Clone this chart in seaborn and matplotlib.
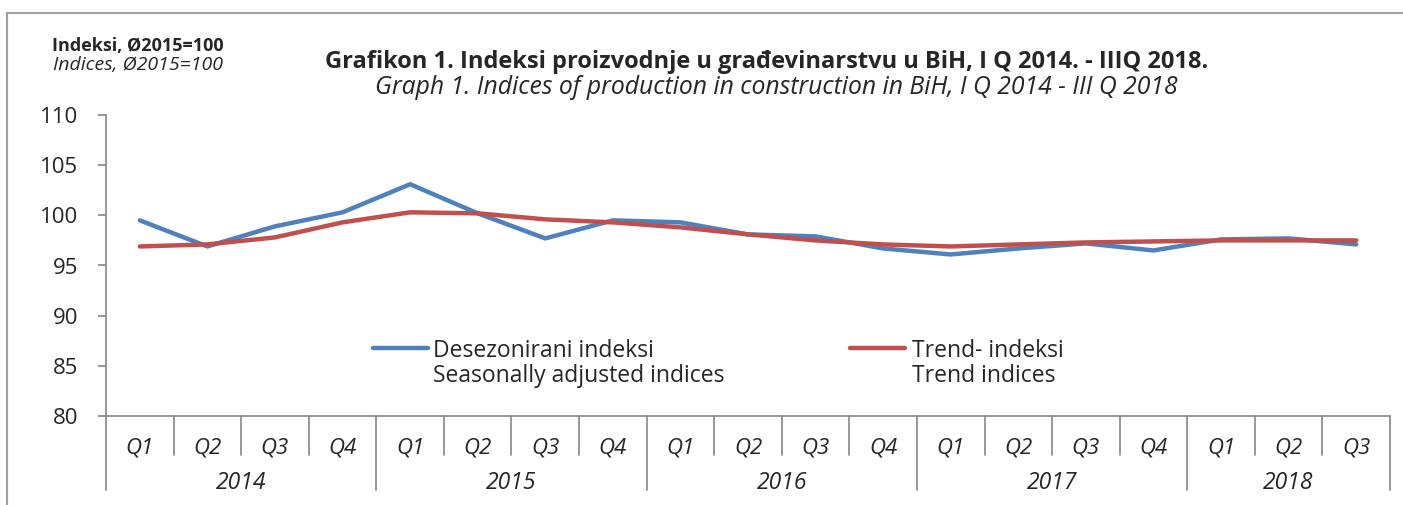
import matplotlib
matplotlib.use("Agg")
import matplotlib.pyplot as plt
import seaborn as sns
import pandas as pd
import numpy as np
from matplotlib.patches import Rectangle

sns.set_style("white")
plt.rcParams['font.family'] = ['Open Sans', 'DejaVu Sans']

years = ["2014", "2015", "2016", "2017", "2018"]
quarters = ["Q1", "Q2", "Q3", "Q4",
            "Q1", "Q2", "Q3", "Q4",
            "Q1", "Q2", "Q3", "Q4",
            "Q1", "Q2", "Q3", "Q4",
            "Q1", "Q2", "Q3"]
quarter_years = ["2014"] * 4 + ["2015"] * 4 + ["2016"] * 4 + ["2017"] * 4 + ["2018"] * 3
seasonally_adjusted = [99.5, 96.9, 98.9, 100.3, 103.1, 100.2, 97.7, 99.5, 99.3, 98.1,
                       97.9, 96.7, 96.1, 96.7, 97.2, 96.5, 97.6, 97.7, 97.1]
trend = [96.9, 97.1, 97.8, 99.3, 100.3, 100.2, 99.6, 99.3, 98.8, 98.1,
         97.5, 97.1, 96.9, 97.1, 97.3, 97.4, 97.5, 97.5, 97.5]
series_names = ["Desezonirani indeksi", "Trend- indeksi"]
series_names_en = ["Seasonally adjusted indices", "Trend indices"]
colors = ["#4F81BD", "#C0504D"]

n = len(quarters)
df = pd.DataFrame({
    "idx": list(range(n)) * 2,
    "value": seasonally_adjusted + trend,
    "series": [series_names[0]] * n + [series_names[1]] * n,
})

fig = plt.figure(figsize=(14.03, 5.05), dpi=100)
W, H = 1403, 505
ax = fig.add_axes([106 / W, 1 - 416 / H, (1390 - 106) / W, (416 - 115) / H])

sns.lineplot(data=df, x="idx", y="value", hue="series", palette=colors,
             linewidth=3.2, ax=ax, legend=False, sort=False)

ax.set_xlim(-0.5, n - 0.5)
ax.set_ylim(80, 110)
ax.set_yticks([80, 85, 90, 95, 100, 105, 110])
ax.set_yticklabels(["80", "85", "90", "95", "100", "105", "110"], fontsize=16)
ax.set_xticks([])
ax.set_xlabel("")
ax.set_ylabel("")
for s in ["top", "right"]:
    ax.spines[s].set_visible(False)
grey = "#868686"
ax.spines["left"].set_color(grey)
ax.spines["bottom"].set_color(grey)
ax.spines["left"].set_linewidth(1.2)
ax.spines["bottom"].set_linewidth(1.2)
ax.tick_params(axis="y", direction="out", length=6, color=grey, width=1.2, pad=14, left=True)

# category axis separators and labels
trans = ax.get_xaxis_transform()
AXH = 416 - 115
y_q = -(455 - 416) / AXH
y_y = -(490 - 416) / AXH
for b in range(n + 1):
    pos = b - 0.5
    is_year = (b == 0) or (b == n) or (b % 4 == 0)
    ax.plot([pos, pos], [0, y_y if is_year else y_q], transform=trans, color=grey,
            lw=1.2, clip_on=False)
for i, q in enumerate(quarters):
    ax.text(i, -(448 - 416) / AXH, q, transform=trans, ha="center", va="center",
            fontsize=16, style="italic")
for k, yr in enumerate(years):
    idxs = [i for i, y in enumerate(quarter_years) if y == yr]
    ax.text((idxs[0] + idxs[-1]) / 2, -(483 - 416) / AXH, yr, transform=trans,
            ha="center", va="center", fontsize=16.5, style="italic")

# legend (manual)
def px(x, y):
    return (x - 106) / (1390 - 106), (416 - y) / AXH

for (x0, x1, tx), name, name_en, c in zip([(373, 428, 433), (850, 905, 912)],
                                          series_names, series_names_en, colors):
    a, yy = px(x0, 348)
    b, _ = px(x1, 348)
    ax.plot([a, b], [yy, yy], transform=ax.transAxes, color=c, lw=3.2, clip_on=False)
    tx_, yt1 = px(tx, 351)
    ax.text(tx_, yt1, name, transform=ax.transAxes, ha="left", va="center", fontsize=16.5)
    _, yt2 = px(0, 376)
    ax.text(tx_, yt2, name_en, transform=ax.transAxes, ha="left", va="center", fontsize=16.5)

# titles
fig.text(138 / W, 1 - 46 / H, "Indeksi, Ø2015=100", ha="center", va="center",
         fontsize=13, weight="bold")
fig.text(138 / W, 1 - 65 / H, "Indices, Ø2015=100", ha="center", va="center",
         fontsize=14, style="italic")
fig.text(767 / W, 1 - 62 / H,
         "Grafikon 1. Indeksi proizvodnje u građevinarstvu u BiH, I Q 2014. - IIIQ 2018.",
         ha="center", va="center", fontsize=17, weight="bold")
fig.text(776 / W, 1 - 88 / H,
         "Graph 1. Indices of production in construction in BiH, I Q 2014 - III Q 2018",
         ha="center", va="center", fontsize=17.8, style="italic")

# outer frame
fig.patches.append(Rectangle((7 / W, -0.05), 1.05, 1 - 13 / H + 0.05, transform=fig.transFigure,
                             fill=False, edgecolor="#A0A0A0", lw=1.5))

fig.savefig("out.png", dpi=100)
